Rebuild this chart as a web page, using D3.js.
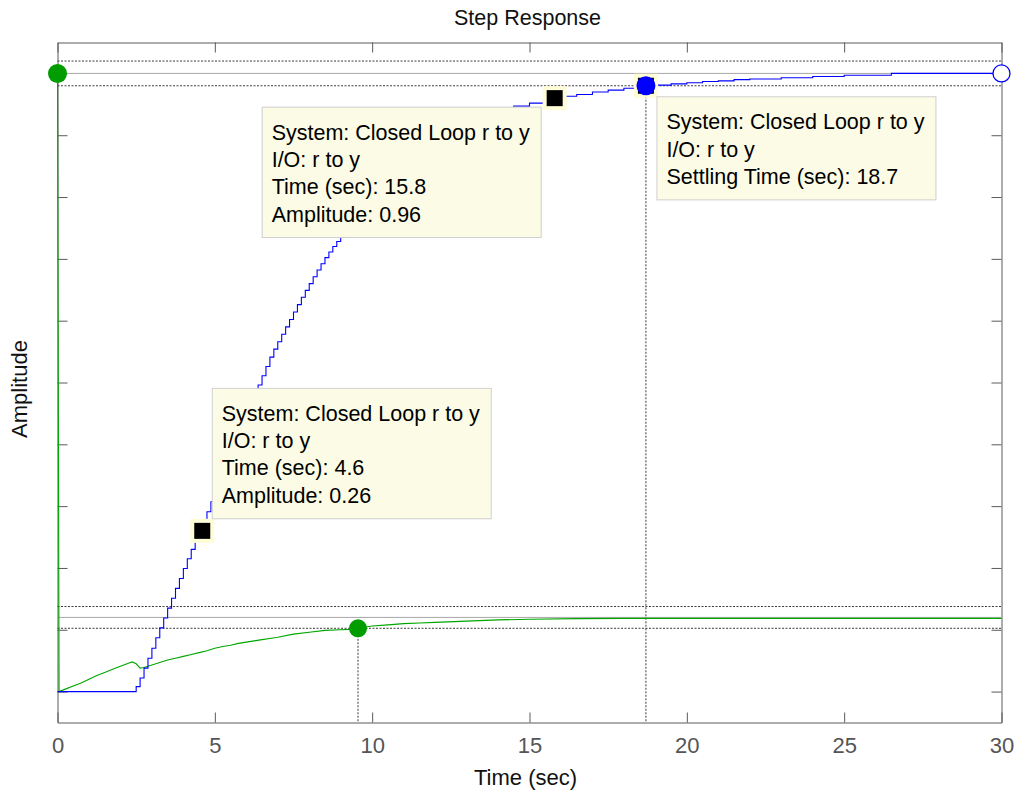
<!DOCTYPE html>
<html>
<head>
<meta charset="utf-8">
<script src="https://cdn.jsdelivr.net/npm/d3@7/dist/d3.min.js"></script>
<style>
  body { margin: 0; background: #ffffff; }
  svg text { font-family: Arial, "Liberation Sans", Helvetica, sans-serif; }
</style>
</head>
<body>
<svg id="chart" width="1020" height="796"></svg>
<script>
// ---- data -------------------------------------------------------------
const xTickValues = [0, 5, 10, 15, 20, 25, 30];
const yTickValues = [0, 0.1, 0.2, 0.3, 0.4, 0.5, 0.6, 0.7, 0.8, 0.9, 1.0];

// closed loop r -> y (sampled, zero-order hold)
const blueTime = [0, 2.5, 2.625, 2.75, 2.875, 3, 3.125, 3.25, 3.375, 3.5, 3.625, 3.75, 3.875,
  4, 4.125, 4.25, 4.375, 4.5, 4.625, 4.75, 4.875, 5, 5.125, 5.25, 5.375, 5.5, 5.625, 5.75, 5.875,
  6, 6.125, 6.25, 6.375, 6.5, 6.625, 6.75, 6.875, 7, 7.125, 7.25, 7.375, 7.5, 7.625, 7.75, 7.875,
  8, 8.125, 8.25, 8.375, 8.5, 8.625, 8.75, 8.875, 9,
  9.25, 9.5, 9.75, 10, 10.5, 11, 11.5, 12, 12.5, 13, 13.5, 14, 14.5, 15, 15.5, 16, 16.5, 17, 17.5,
  18, 18.5, 19, 19.5, 20, 20.5, 21, 21.5, 22, 23, 24, 25, 26.5, 30];
const blueAmp = [0, 0.008, 0.022, 0.038, 0.054, 0.070, 0.087, 0.103, 0.119, 0.135, 0.151, 0.167, 0.183,
  0.199, 0.215, 0.230, 0.245, 0.260, 0.275, 0.291, 0.307, 0.323, 0.339, 0.355, 0.371, 0.387, 0.403, 0.419, 0.435,
  0.450, 0.466, 0.481, 0.496, 0.511, 0.526, 0.541, 0.554, 0.566, 0.578, 0.590, 0.602, 0.614, 0.626, 0.638, 0.649,
  0.660, 0.671, 0.682, 0.692, 0.702, 0.711, 0.720, 0.728, 0.736,
  0.751, 0.765, 0.779, 0.792, 0.816, 0.839, 0.860, 0.879, 0.896, 0.912, 0.926, 0.940, 0.947, 0.952, 0.957, 0.963, 0.966, 0.970, 0.973,
  0.976, 0.978, 0.981, 0.983, 0.985, 0.987, 0.988, 0.990, 0.991, 0.993, 0.995, 0.997, 1.000, 1.000];

// second response (green)
const greenTime = [0, 0.05, 0.25, 0.5, 0.75, 1, 1.25, 1.5, 1.75, 2, 2.25, 2.375, 2.5, 2.625, 2.75, 3,
  3.25, 3.5, 3.75, 4, 4.25, 4.5, 4.75, 5, 5.25, 5.5, 5.75, 6, 6.25, 6.5, 6.75, 7,
  7.5, 8, 8.5, 9, 9.5, 9.75, 10, 10.5, 11, 11.5, 12, 13, 14, 15, 16.5, 18, 30];
const greenAmp = [1.0, 0.000, 0.004, 0.009, 0.014, 0.020, 0.026, 0.031, 0.036, 0.041, 0.046, 0.048, 0.045, 0.038, 0.039, 0.043,
  0.047, 0.051, 0.054, 0.057, 0.060, 0.063, 0.066, 0.070, 0.073, 0.075, 0.078, 0.080, 0.082, 0.084, 0.086, 0.088,
  0.093, 0.096, 0.099, 0.100, 0.101, 0.104, 0.106, 0.108, 0.110, 0.111, 0.112, 0.114, 0.116, 0.117, 0.118, 0.1185, 0.1185];

// characteristics
const finalValues = [1.0, 0.12];          // blue, green
const settleBands = [0.02, 0.0176];       // half-width of settling band
const settlePoints = [[18.7, 0.98], [9.55, 0.1024]];  // blue, green
const greenPeak = [0, 1.0];

// data tips
const tipPoints = [[4.6, 0.26], [15.8, 0.96]];
const tipTexts = [
  ["System: Closed Loop r to y", "I/O: r to y", "Time (sec): 4.6", "Amplitude: 0.26"],
  ["System: Closed Loop r to y", "I/O: r to y", "Time (sec): 15.8", "Amplitude: 0.96"]
];
const settleTipText = ["System: Closed Loop r to y", "I/O: r to y", "Settling Time (sec): 18.7"];

// ---- drawing -----------------------------------------------------------
const svg = d3.select("#chart");
const x = d3.scaleLinear().domain([0, 30]).range([57.5, 1001.5]);
const y = d3.scaleLinear().domain([-0.05, 1.05]).range([722.5, 42.5]);

const BLUE = "#0000ff", GREEN = "#00a600", AXIS = "#5a5a5a";
const FS = 21.5;
const x0 = x.range()[0], x1 = x.range()[1], yb = y.range()[0], yt = y.range()[1];

// title and labels
svg.append("text").attr("x", (x0 + x1) / 2 - 2).attr("y", 25).attr("text-anchor", "middle")
  .attr("font-size", FS).attr("fill", "#111").text("Step Response");
svg.append("text").attr("x", (x0 + x1) / 2 - 4).attr("y", 785).attr("text-anchor", "middle")
  .attr("font-size", 22).attr("fill", "#111").text("Time (sec)");
svg.append("text").attr("transform", "translate(27,389) rotate(-90)").attr("text-anchor", "middle")
  .attr("font-size", 22).attr("fill", "#111").text("Amplitude");

// axes: box with inward ticks on all four sides
const gBottom = svg.append("g").attr("transform", `translate(0,${yb})`)
  .call(d3.axisBottom(x).tickValues(xTickValues).tickSizeInner(-10).tickSizeOuter(0).tickPadding(15));
const gTop = svg.append("g").attr("transform", `translate(0,${yt})`)
  .call(d3.axisTop(x).tickValues(xTickValues).tickSizeInner(-10).tickSizeOuter(0).tickFormat(""));
const gLeft = svg.append("g").attr("transform", `translate(${x0},0)`)
  .call(d3.axisLeft(y).tickValues(yTickValues).tickSizeInner(-10).tickSizeOuter(0).tickFormat(""));
const gRight = svg.append("g").attr("transform", `translate(${x1},0)`)
  .call(d3.axisRight(y).tickValues(yTickValues).tickSizeInner(-10).tickSizeOuter(0).tickFormat(""));
[gBottom, gTop, gLeft, gRight].forEach(g => {
  g.select(".domain").attr("stroke", AXIS);
  g.selectAll(".tick line").attr("stroke", AXIS);
});
gBottom.selectAll(".tick text").attr("font-size", 22).attr("fill", "#555")
  .attr("font-family", "Arial, 'Liberation Sans', sans-serif");

const plot = svg.append("g");

// settling bands and final value lines
finalValues.forEach((fv, i) => {
  const band = settleBands[i];
  [fv + band, fv - band].forEach(v => {
    plot.append("line").attr("x1", x0).attr("x2", x1).attr("y1", y(v)).attr("y2", y(v))
      .attr("stroke", "#3c3c3c").attr("stroke-width", 1).attr("stroke-dasharray", "2,1.5");
  });
  plot.append("line").attr("x1", x0).attr("x2", x1).attr("y1", y(fv)).attr("y2", y(fv))
    .attr("stroke", "#a8a8a8").attr("stroke-width", 1);
});

// settling time verticals
settlePoints.forEach(p => {
  plot.append("line").attr("x1", x(p[0])).attr("x2", x(p[0])).attr("y1", y(p[1])).attr("y2", yb)
    .attr("stroke", "#3c3c3c").attr("stroke-width", 1).attr("stroke-dasharray", "2,1.5");
});

// responses
const stepLine = d3.line().x(d => x(d[0])).y(d => y(d[1])).curve(d3.curveStepAfter);
const plainLine = d3.line().x(d => x(d[0])).y(d => y(d[1]));
plot.append("path").datum(d3.zip(greenTime, greenAmp)).attr("d", plainLine)
  .attr("fill", "none").attr("stroke", GREEN).attr("stroke-width", 1.1);
plot.append("path").datum(d3.zip(blueTime, blueAmp)).attr("d", stepLine)
  .attr("fill", "none").attr("stroke", BLUE).attr("stroke-width", 1.1);

// markers
function tipSquare(t, v) {
  plot.append("rect").attr("x", x(t) - 12).attr("y", y(v) - 12).attr("width", 24).attr("height", 24)
    .attr("fill", "#fffcd8");
  plot.append("rect").attr("x", x(t) - 8).attr("y", y(v) - 8).attr("width", 16).attr("height", 16)
    .attr("fill", "#000");
}
tipPoints.forEach(p => tipSquare(p[0], p[1]));
tipSquare(settlePoints[0][0], settlePoints[0][1]);

plot.append("circle").attr("cx", x(settlePoints[0][0])).attr("cy", y(settlePoints[0][1])).attr("r", 9.5)
  .attr("fill", BLUE);
plot.append("circle").attr("cx", x(settlePoints[1][0])).attr("cy", y(settlePoints[1][1])).attr("r", 9)
  .attr("fill", "#009c00");
plot.append("circle").attr("cx", x(greenPeak[0])).attr("cy", y(greenPeak[1])).attr("r", 9.5)
  .attr("fill", "#009c00");
plot.append("circle").attr("cx", x(30)).attr("cy", y(finalValues[0])).attr("r", 8.5)
  .attr("fill", "#fff").attr("stroke", BLUE).attr("stroke-width", 1.3);

// data tip boxes
function tipBox(left, top, lines) {
  const g = svg.append("g").attr("transform", `translate(${left},${top})`);
  const h = 31.5 + (lines.length - 1) * 27.3 + 17;
  g.append("rect").attr("x", 0.5).attr("y", 0.5).attr("width", 279).attr("height", h)
    .attr("fill", "#fcfce6").attr("stroke", "#cfcfcf").attr("stroke-width", 1);
  lines.forEach((s, i) => {
    g.append("text").attr("x", 10).attr("y", 33 + i * 27.3).attr("font-size", FS)
      .attr("fill", "#000").text(s);
  });
}
tipBox(x(tipPoints[0][0]) + 9.5, y(tipPoints[0][1]) - 143, tipTexts[0]);
tipBox(x(tipPoints[1][0]) - 293, y(tipPoints[1][1]) + 8.5, tipTexts[1]);
tipBox(x(settlePoints[0][0]) + 10.5, y(settlePoints[0][1]) + 10.5, settleTipText);
</script>
</body>
</html>
